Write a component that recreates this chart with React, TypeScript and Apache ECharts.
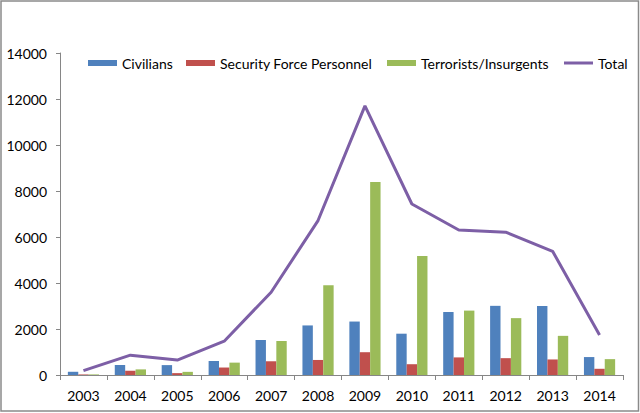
import React, { useEffect, useRef } from "react";
import * as echarts from "echarts";

const years = ["2003", "2004", "2005", "2006", "2007", "2008", "2009", "2010", "2011", "2012", "2013", "2014"];
const civilians = [140, 435, 430, 608, 1522, 2155, 2324, 1796, 2738, 3007, 3001, 780];
const securityForces = [24, 184, 81, 325, 597, 654, 991, 469, 765, 732, 676, 270];
const terrorists = [25, 244, 137, 538, 1479, 3906, 8389, 5170, 2800, 2472, 1702, 690];
const totals = [189, 863, 648, 1471, 3598, 6715, 11704, 7435, 6303, 6211, 5379, 1740];

const FONT = "Lato, 'Noto Sans', sans-serif";

export default function App() {
  const ref = useRef<HTMLDivElement>(null);
  useEffect(() => {
    if (!ref.current) return;
    const chart = echarts.init(ref.current, null, { renderer: "svg" });
    const legendBase = {
      top: 51,
      itemWidth: 29,
      itemHeight: 6,
      itemGap: 0,
      textStyle: { fontFamily: FONT, fontSize: 14, color: "#000" },
    };
    chart.setOption({
      animation: false,
      backgroundColor: "#fff",
      textStyle: { fontFamily: FONT },
      graphic: [
        {
          type: "rect",
          shape: { x: 1, y: 1, width: 637.5, height: 410 },
          style: { fill: "none", stroke: "#8a8a8a", lineWidth: 1.5 },
          silent: true,
        },
      ],
      legend: [
        { ...legendBase, left: 83, data: [{ name: "Civilians", icon: "rect" }] },
        { ...legendBase, left: 181, data: [{ name: "Security Force Personnel", icon: "rect" }] },
        { ...legendBase, left: 382, data: [{ name: "Terrorists/Insurgents", icon: "rect" }] },
        {
          ...legendBase,
          left: 559,
          itemHeight: 3,
          data: [{ name: "Total", icon: "rect" }],
        },
      ],
      grid: { left: 60, right: 17, top: 53, bottom: 38, containLabel: false },
      xAxis: {
        type: "category",
        data: years,
        boundaryGap: true,
        axisLine: { lineStyle: { color: "#868686", width: 1 } },
        axisTick: { show: true, length: 5, alignWithLabel: false, lineStyle: { color: "#868686" } },
        axisLabel: { color: "#000", fontFamily: FONT, fontSize: 14, margin: 13 },
        splitLine: { show: false },
      },
      yAxis: {
        type: "value",
        min: 0,
        max: 14000,
        interval: 2000,
        axisLine: { show: true, lineStyle: { color: "#868686", width: 1 } },
        axisTick: { show: true, length: 4, lineStyle: { color: "#868686" } },
        axisLabel: {
          color: "#000",
          fontFamily: FONT,
          fontSize: 14,
          margin: 13,
          formatter: (v: number) => String(v),
        },
        splitLine: { show: false },
      },
      series: [
        {
          name: "Civilians",
          type: "bar",
          data: civilians,
          barWidth: 10.4,
          barGap: "0%",
          itemStyle: { color: "#4F81BD" },
        },
        {
          name: "Security Force Personnel",
          type: "bar",
          data: securityForces,
          barWidth: 10.4,
          barGap: "0%",
          itemStyle: { color: "#C0504D" },
        },
        {
          name: "Terrorists/Insurgents",
          type: "bar",
          data: terrorists,
          barWidth: 10.4,
          barGap: "0%",
          itemStyle: { color: "#9BBB59" },
        },
        {
          name: "Total",
          type: "line",
          data: totals,
          symbol: "none",
          lineStyle: { color: "#7D5FA6", width: 3 },
          itemStyle: { color: "#7D5FA6" },
        },
      ],
    });
    return () => chart.dispose();
  }, []);
  return (
    <div
      ref={ref}
      style={{ position: "absolute", left: 0, top: 0, width: 640, height: 413 }}
    />
  );
}
